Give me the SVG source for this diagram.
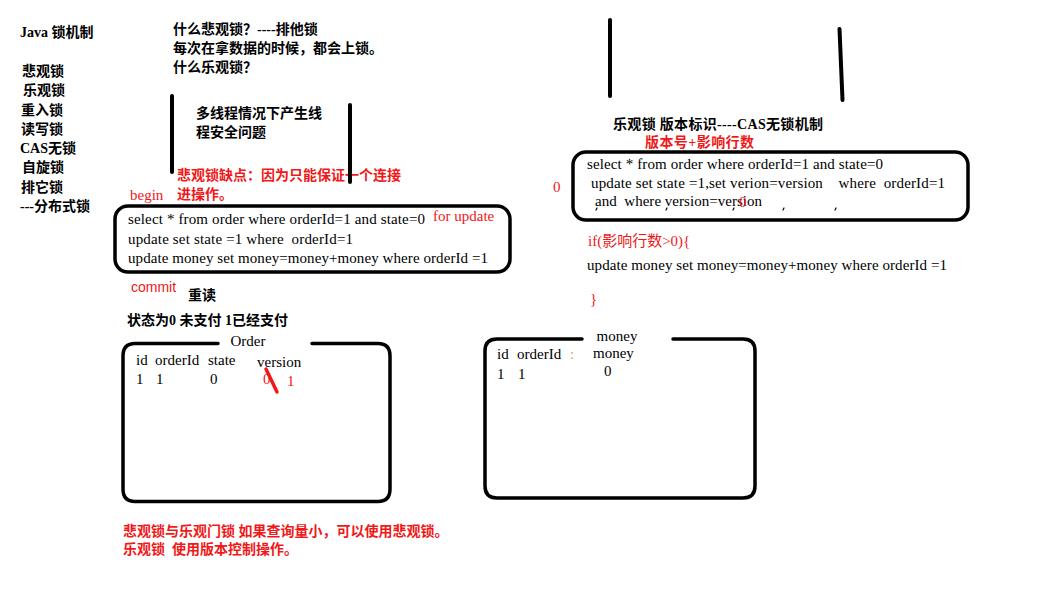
<svg xmlns="http://www.w3.org/2000/svg" width="1045" height="601" viewBox="0 0 1045 601">
<style>
text{font-family:"Liberation Serif","Noto Sans CJK SC",serif;font-size:15px;fill:#000}
.cj{font-weight:bold;font-size:14px}
.cj text{font-size:14px}
.r{fill:#f01818}
.sans{font-family:"Liberation Sans","Noto Sans CJK SC",sans-serif}
.box{fill:none;stroke:#000;stroke-width:3.5;stroke-linecap:round;stroke-linejoin:round}
.bar{stroke:#000;stroke-width:4;stroke-linecap:round}
</style>
<rect width="1045" height="601" fill="#fff"/>

<g id="lock-list" class="cj">
<text x="20" y="37">Java 锁机制</text>
<text x="22" y="76">悲观锁</text>
<text x="23" y="95">乐观锁</text>
<text x="21" y="115">重入锁</text>
<text x="21" y="134">读写锁</text>
<text x="20" y="153">CAS无锁</text>
<text x="22" y="172">自旋锁</text>
<text x="21" y="192">排它锁</text>
<text x="20" y="211">---分布式锁</text>
</g>

<g id="pessimistic-notes" class="cj">
<text x="173" y="34">什么悲观锁？----排他锁</text>
<text x="173" y="53">每次在拿数据的时候，都会上锁。</text>
<text x="173" y="72">什么乐观锁？</text>
<text x="196" y="118">多线程情况下产生线</text>
<text x="196" y="137">程安全问题</text>
<text class="r" x="177" y="180">悲观锁缺点：因为只能保证一个连接</text>
<text class="r" x="177" y="199">进操作。</text>
</g>
<line class="bar" x1="172" y1="96" x2="172" y2="172"/>
<line class="bar" x1="350" y1="105" x2="350" y2="182"/>

<g id="pessimistic-tx">
<text class="r" x="130" y="200">begin</text>
<rect class="box" x="115" y="206" width="395" height="66" rx="13"/>
<text x="128" y="224" textLength="297">select * from order where orderId=1 and state=0</text>
<text class="r" x="433" y="221">for update</text>
<text x="128" y="244" textLength="225" xml:space="preserve">update set state =1 where  orderId=1</text>
<text x="128" y="263" textLength="360">update money set money=money+money where orderId =1</text>
<text class="r sans" x="131" y="292" style="font-size:14px">commit</text>
<text class="cj" x="188" y="300">重读</text>
<text class="cj" x="127" y="325">状态为0 未支付 1已经支付</text>
</g>

<g id="order-table">
<path class="box" d="M218 343.5 H135 Q123 343.5 123 356 V489 Q123 501.5 135 501.5 H378 Q390 501.5 390 489 V356 Q390 343.5 378 343.5 H312"/>
<text x="248" y="346" text-anchor="middle">Order</text>
<text x="136" y="365">id</text>
<text x="155" y="365">orderId</text>
<text x="208" y="365">state</text>
<text x="257" y="367">version</text>
<text x="136" y="384">1</text>
<text x="156" y="384">1</text>
<text x="210" y="384">0</text>
<text class="r" x="263" y="384">0</text>
<text class="r" x="287" y="386">1</text>
<line x1="266" y1="369" x2="277" y2="392" stroke="#f01818" stroke-width="3.5" stroke-linecap="round"/>
</g>

<line class="bar" x1="610" y1="20" x2="610" y2="96"/>
<line class="bar" x1="839.5" y1="29" x2="842.5" y2="100"/>

<g id="optimistic-tx">
<text class="cj" x="613" y="129" textLength="210">乐观锁 版本标识----CAS无锁机制</text>
<text class="cj r" x="645" y="147" textLength="109">版本号+影响行数</text>
<text class="r" x="553" y="192">0</text>
<rect class="box" x="573" y="152" width="395" height="68" rx="13"/>
<text x="587" y="169" textLength="296">select * from order where orderId=1 and state=0</text>
<text x="591" y="188" textLength="354" xml:space="preserve">update set state =1,set verion=version    where  orderId=1</text>
<text x="595" y="206" textLength="167" xml:space="preserve">and  where version=version</text>
<text class="r" x="739" y="207">0</text>
<g stroke="#000" stroke-width="1.2" stroke-linecap="round">
<line x1="597" y1="208" x2="596" y2="210"/>
<line x1="667" y1="208" x2="666" y2="210"/>
<line x1="734" y1="208" x2="733" y2="210"/>
<line x1="784" y1="208" x2="783" y2="210"/>
<line x1="836" y1="208" x2="835" y2="210"/>
</g>
<text class="r" x="588" y="246">if(影响行数&gt;0){</text>
<text x="587" y="270" textLength="360">update money set money=money+money where orderId =1</text>
<text class="r" x="590" y="304">}</text>
</g>

<g id="money-table">
<path class="box" d="M582 339 H497 Q485 339 485 351 V486 Q485 498 497 498 H743 Q755 498 755 486 V351 Q755 339 743 339 H673"/>
<text x="617" y="341" text-anchor="middle">money</text>
<text x="497" y="359">id</text>
<text x="517" y="359">orderId</text>
<text x="570" y="359" style="fill:#d8a070">:</text>
<text x="593" y="358">money</text>
<text x="497" y="379">1</text>
<text x="518" y="379">1</text>
<text x="604" y="376">0</text>
</g>

<g id="summary" class="cj r">
<text class="r" x="123" y="536" xml:space="preserve">悲观锁与乐观门锁 如果查询量小，可以使用悲观锁。</text>
<text class="r" x="123" y="554" xml:space="preserve">乐观锁  使用版本控制操作。</text>
</g>
</svg>
